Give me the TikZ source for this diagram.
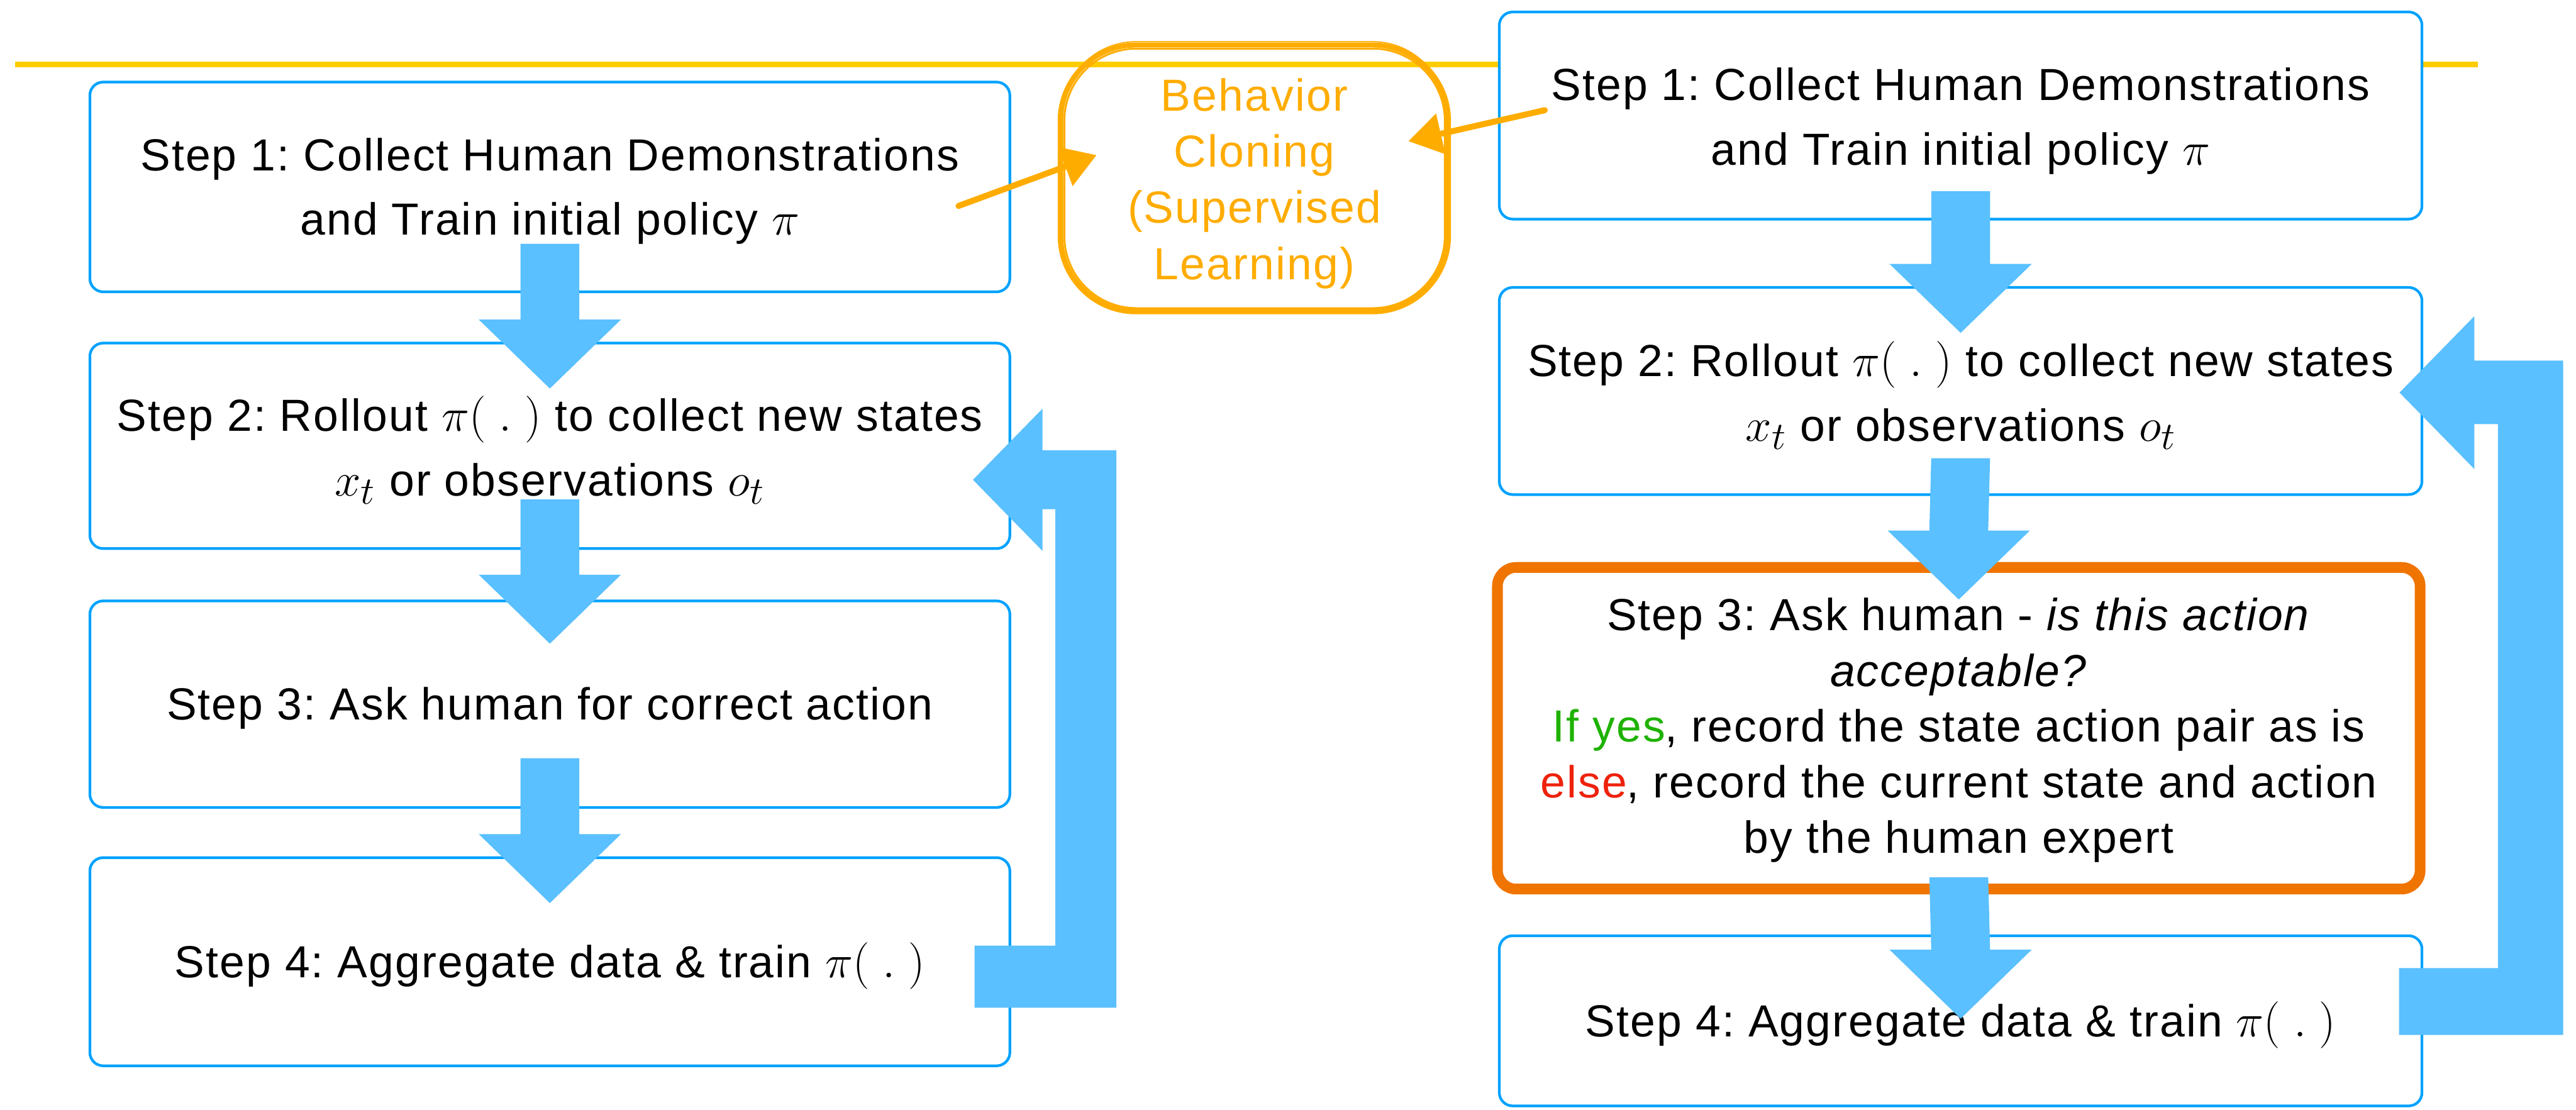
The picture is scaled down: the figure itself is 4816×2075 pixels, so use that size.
\documentclass[tikz,border=0pt]{standalone}
\usepackage{fontspec}
\setmainfont{Liberation Sans}[LetterSpace=3]
\usetikzlibrary{calc,arrows.meta}
\definecolor{boxblue}{RGB}{0,162,255}
\definecolor{arrowblue}{RGB}{90,192,255}
\definecolor{bcorange}{RGB}{255,172,0}
\definecolor{lineyellow}{RGB}{255,204,0}
\definecolor{stepthreeorange}{RGB}{240,116,0}
\definecolor{yesgreen}{RGB}{30,178,0}
\definecolor{elsered}{RGB}{238,34,12}
\newcommand\mth[1]{{\fontsize{28pt}{28pt}\selectfont$#1$}}
\newcommand\dnarrow[4]{%
  \fill[arrowblue] ($(#1.south)+(-55,-#3)$) -- ++(110,0) -- ($(#2.north)+(55,#4-129)$) -- ++(78,0)
    -- ($(#2.north)+(0,#4)$) -- ++(-133,-129) -- ++(78,0) -- cycle;}
\begin{document}
\frenchspacing
\begin{tikzpicture}[x=0.01cm,y=-0.01cm,
  txt/.style={align=center, font=\frenchspacing\fontsize{23.9pt}{34.4pt}\selectfont, inner sep=0pt},
  stepbox/.style={draw=boxblue, line width=1.42pt, rounded corners=0.25cm, fill=white,
    minimum width=17.19cm, inner sep=0pt, outer sep=0pt},
  rstepbox/.style={stepbox, minimum width=17.24cm},
  bcline/.style={bcorange, line cap=round, line join=round},
  fbarrow/.style={fill=arrowblue}]
\useasboundingbox (0,0) rectangle (4816,2075);

\draw[lineyellow, line width=3pt] (28,121) -- (4632,121);

% Behavior cloning sketch box
\node[minimum width=7.22cm, minimum height=4.96cm, inner sep=0pt, outer sep=0pt] (BC) at (2345,333) {};
\node[txt, text=bcorange, font=\frenchspacing\fontsize{23.9pt}{29.9pt}\selectfont] (BCt) at ($(BC.center)+(0,10)$)
  {Behavior\\Cloning\\(Supervised\\Learning)};
\draw[bcline, line width=2.2pt, rounded corners=1.4cm] (BC.south west) rectangle (BC.north east);
\draw[bcline, line width=1.0pt, rounded corners=1.35cm] ($(BC.south west)+(6,-5)$) rectangle ($(BC.north east)+(-5,6)$);
\draw[bcline, line width=0.8pt, rounded corners=1.45cm] ($(BC.south west)+(-5,5)$) rectangle ($(BC.north east)+(5,-4)$);
\draw[bcline, line width=0.6pt, rounded corners=1.38cm] ($(BC.south west)+(2,3)$) rectangle ($(BC.north east)+(-2,-7)$);

% Left column
\node[stepbox, minimum height=3.92cm] (L1) at (1028,349.5) {};
\node[txt] (L1t) at ($(L1.center)+(0,8)$) {Step 1: Collect Human Demonstrations\\and Train initial policy \mth{\pi}};
\node[stepbox, minimum height=3.84cm] (L2) at (1028,833.5) {};
\node[txt] (L2t) at ($(L2.center)+(0,8)$) {Step 2: Rollout \mth{\pi(\;.\;)} to collect new states\\\mth{x_t} or observations \mth{o_t}};
\node[stepbox, minimum height=3.86cm] (L3) at (1028,1316.5) {};
\node[txt] (L3t) at ($(L3.center)+(0,8)$) {Step 3: Ask human for correct action};
\node[stepbox, minimum height=3.89cm] (L4) at (1028,1798) {};
\node[txt] (L4t) at ($(L4.center)+(0,8)$) {Step 4: Aggregate data \& train \mth{\pi(\;.\;)}};

% Right column
\node[rstepbox, minimum height=3.87cm] (R1) at (3665.5,216) {};
\node[txt] (R1t) at ($(R1.center)+(0,10)$) {Step 1: Collect Human Demonstrations\\and Train initial policy \mth{\pi}};
\node[rstepbox, minimum height=3.87cm] (R2) at (3665.5,731) {};
\node[txt] (R2t) at ($(R2.center)+(0,8)$) {Step 2: Rollout \mth{\pi(\;.\;)} to collect new states\\\mth{x_t} or observations \mth{o_t}};
\node[draw=stepthreeorange, line width=5.7pt, rounded corners=0.35cm, fill=white,
  minimum width=17.24cm, minimum height=6.01cm, inner sep=0pt, outer sep=0pt] (R3) at (3662,1361.5) {};
\node[txt, font=\frenchspacing\fontsize{23.9pt}{29.6pt}\selectfont] (R3t) at ($(R3.center)+(0,4)$)
  {Step 3: Ask human - \textit{is this action}\\\textit{acceptable?}\\
   \textcolor{yesgreen}{If yes}, record the state action pair as is\\
   \textcolor{elsered}{else}, record the current state and action\\
   by the human expert};
\node[rstepbox, minimum height=3.18cm] (R4) at (3665.5,1908.5) {};
\node[txt] (R4t) at ($(R4.center)+(0,8)$) {Step 4: Aggregate data \& train \mth{\pi(\;.\;)}};

% orange arrows into Behavior Cloning
\coordinate (L1out) at (1792,385);
\coordinate (BCinL) at (2050,290);
\coordinate (R1out) at (2888,206);
\coordinate (BCinR) at (2633,264);
\draw[bcline, line width=3.2pt, -{Triangle[length=0.62cm,width=0.75cm]}] (L1out) -- (BCinL);
\draw[bcline, line width=3.2pt, -{Triangle[length=0.62cm,width=0.75cm]}] (R1out) -- (BCinR);

% down arrows
\dnarrow{L1}{L2}{90}{85}
\dnarrow{L2}{L3}{92}{80}
\dnarrow{L3}{L4}{92}{85}
\dnarrow{R1}{R2}{52}{85}
\dnarrow{R2}{R3}{68}{60}
\dnarrow{R3}{R4}{22}{155}

% feedback arrows
\coordinate (fbLtail) at (1822,1826);
\coordinate (fbLtip) at (1819,897);
\fill[fbarrow] ($(fbLtail)+(0,-58)$) -- ++(151,0) -- ($(fbLtip)+(154,55)$) -- ++(-24,0) -- ++(0,78)
  -- (fbLtip) -- ++(130,-133) -- ++(0,78) -- ++(138,0) -- ($(fbLtail)+(265,58)$) -- ++(-265,0) -- cycle;
\coordinate (fbRtail) at (4485,1872);
\coordinate (fbRtip) at (4486,734);
\fill[fbarrow] ($(fbRtail)+(0,-62)$) -- ++(185,0) -- ($(fbRtip)+(184,59)$) -- ++(-44,0) -- ++(0,84)
  -- (fbRtip) -- ++(140,-143) -- ++(0,83) -- ++(166,0) -- ($(fbRtail)+(307,63)$) -- ++(-307,0) -- cycle;
\end{tikzpicture}
\end{document}
